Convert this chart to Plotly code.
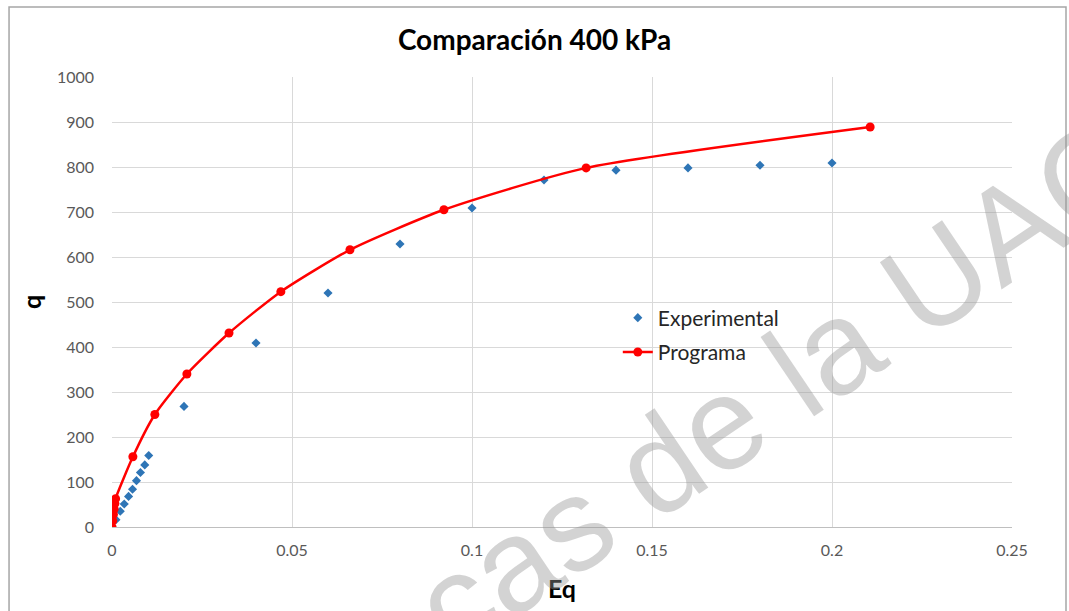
import plotly.graph_objects as go

# Data
exp_x = [0, 0.0011, 0.0023, 0.0034, 0.0046, 0.0057, 0.0068, 0.0079, 0.0091, 0.0102,
         0.02, 0.04, 0.06, 0.08, 0.1, 0.12, 0.14, 0.16, 0.18, 0.2]
exp_q = [0, 16, 35, 51, 68, 84, 103, 121, 138, 159,
         268, 409, 520, 629, 709, 771, 793, 798, 804, 809]

prog_x = [0, 0.0002, 0.0004, 0.0006, 0.0008, 0.001, 0.0058, 0.0119, 0.0208,
          0.0325, 0.0469, 0.0661, 0.0922, 0.1317, 0.2106]
prog_q = [0, 14, 28, 40, 52, 63, 156, 250, 340, 431, 523, 616, 705, 798, 889]

x_ticks = [0, 0.05, 0.1, 0.15, 0.2, 0.25]
x_tick_labels = ["0", "0.05", "0.1", "0.15", "0.2", "0.25"]
y_ticks = [0, 100, 200, 300, 400, 500, 600, 700, 800, 900, 1000]

FONT = "Lato, 'Open Sans', sans-serif"

fig = go.Figure()
fig.add_trace(go.Scatter(
    x=exp_x, y=exp_q, mode="markers", name="Experimental", legendgroup="e",
    marker=dict(symbol="diamond", size=7, color="#2e75b6"),
))
fig.add_trace(go.Scatter(
    x=prog_x, y=prog_q, mode="lines+markers", name="Programa", legendgroup="p",
    line=dict(color="#ff0000", width=2.5, shape="spline", smoothing=0.6),
    marker=dict(symbol="circle", size=9, color="#ff0000"),
))

fig.update_layout(
    width=1069, height=611,
    margin=dict(l=112, r=57, t=77, b=84),
    paper_bgcolor="white", plot_bgcolor="white",
    font=dict(family=FONT, color="#595959", size=14),
    title=dict(text="<b>Comparación 400 kPa</b>", x=0.5, xanchor="center",
               y=1 - 40 / 611, yanchor="middle",
               font=dict(family=FONT, size=28, color="#000000")),
    showlegend=True,
    legend=dict(x=0.562, y=0.51, xanchor="left", yanchor="top",
                bgcolor="rgba(0,0,0,0)",
                font=dict(family=FONT, size=21, color="#262626"),
                itemsizing="trace", tracegroupgap=4),
    xaxis=dict(
        range=[0, 0.25], tickvals=x_ticks, ticktext=x_tick_labels,
        showgrid=True, gridcolor="#d9d9d9", gridwidth=1,
        zeroline=False, showline=True, linecolor="#bfbfbf", linewidth=1,
        ticks="", tickfont=dict(size=16, color="#595959"), ticklabelstandoff=9,
        title=dict(text="<b>Eq</b>", font=dict(family=FONT, size=25, color="#000000"), standoff=22),
    ),
    yaxis=dict(
        range=[0, 1000], tickvals=y_ticks,
        showgrid=True, gridcolor="#d9d9d9", gridwidth=1,
        zeroline=False, showline=False,
        ticks="", tickfont=dict(size=16, color="#595959"), ticklabelstandoff=17,
        title=dict(text="<b>q</b>", font=dict(family=FONT, size=25, color="#000000"), standoff=8),
    ),
    shapes=[dict(type="rect", xref="paper", yref="paper",
                 x0=-0.1144, x1=1.06, y0=-0.2, y1=1.1556,
                 line=dict(color="#a6a6a6", width=1.5), fillcolor="rgba(0,0,0,0)", layer="below")],
    annotations=[dict(text="cas de la UAC", xref="paper", yref="paper",
                      x=(778 - 112) / 900, y=(527 - 385) / 450,
                      xanchor="center", yanchor="middle",
                      showarrow=False, textangle=-34,
                      font=dict(family="Liberation Sans, Arial, sans-serif", size=132,
                                color="rgba(150,150,150,0.42)"))],
)

fig.write_html("out.html")
